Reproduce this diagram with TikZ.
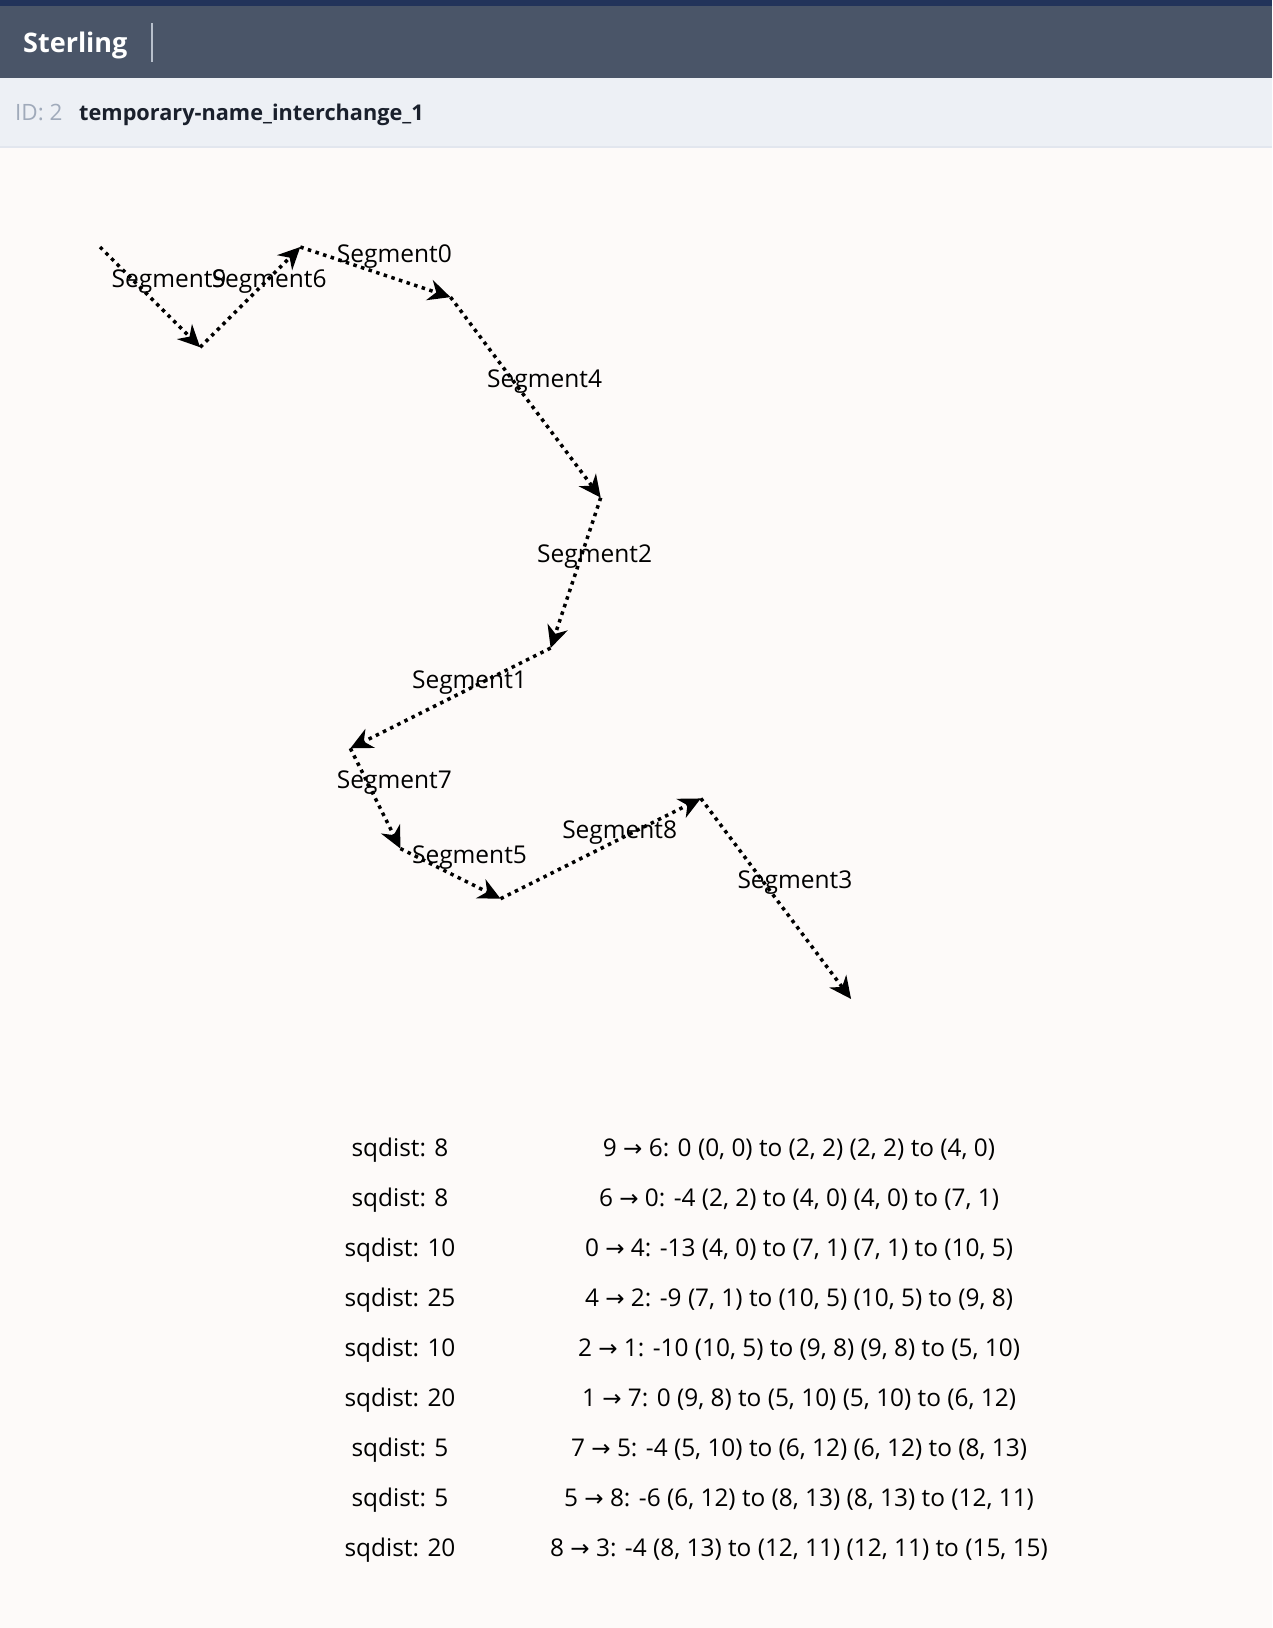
\documentclass[tikz,border=0pt]{standalone}
\usepackage{fontspec}
\setmainfont{Open Sans}
\newfontfamily\arrowfont{DejaVu Sans}
\usetikzlibrary{arrows.meta,calc}
\definecolor{bgc}{HTML}{FDFAF9}
\definecolor{headdark}{HTML}{4A5568}
\definecolor{headtop}{HTML}{22335A}
\definecolor{subbar}{HTML}{EDF0F5}
\definecolor{borderc}{HTML}{E2E6EE}
\definecolor{idgray}{HTML}{A0AABA}
\definecolor{titlec}{HTML}{1A202C}
\definecolor{sepc}{HTML}{B8C0CC}
\tikzset{
  segline/.style={line width=3.5pt, dash pattern=on 3.5pt off 4.5pt,
    -{Stealth[length=22pt,width=21pt,inset=7pt]}},
  seglabel/.style={font=\fontsize{24.5}{28}\selectfont, inner sep=0pt, xshift=19pt, yshift=16pt},
  tabtext/.style={font=\fontsize{24.4}{28}\selectfont, text=black, inner sep=0pt},
  pt/.style={inner sep=0pt, minimum size=0pt}
}
\newcommand{\ar}{{\arrowfont\fontsize{23}{26}\selectfont\raisebox{0.8pt}{→}}}
\begin{document}
\begin{tikzpicture}[x=1pt,y=-1pt]
\fill[bgc] (0,0) rectangle (1272,1628);
\useasboundingbox (0,0) rectangle (1272,1628);
% header
\fill[headdark] (0,0) rectangle (1272,78);
\fill[headtop] (0,0) rectangle (1272,6);
\fill[subbar] (0,78) rectangle (1272,146);
\fill[borderc] (0,146) rectangle (1272,148);
\node[anchor=base west, inner sep=0pt, text=white, font=\fontsize{27}{31}\selectfont\bfseries] (brand) at (23,52) {Sterling};
\coordinate (sepTop) at (152,23);
\coordinate (sepBot) at (152,62);
\draw[sepc, line width=1.5pt] (sepTop) -- (sepBot);
\node[anchor=base west, inner sep=0pt, text=idgray, font=\fontsize{22.5}{26}\selectfont] (idlbl) at (15,120) {ID: 2};
\node[anchor=base west, inner sep=0pt, text=titlec, font=\fontsize{21.7}{26}\selectfont\bfseries] (title) at (79,120) {temporary-name\_interchange\_1};
% plot
\begin{scope}[shift={(100,247)}, x=50.07pt, y=-50.13pt]
  \coordinate (a0) at (0,0);
  \coordinate (a1) at (2,2);
  \coordinate (a2) at (4,0);
  \coordinate (a3) at (7,1);
  \coordinate (a4) at (10,5);
  \coordinate (a5) at (9,8);
  \coordinate (a6) at (5,10);
  \coordinate (a7) at (6,12);
  \coordinate (a8) at (8,13);
  \coordinate (a9) at (12,11);
  \coordinate (a10) at (15,15);
\end{scope}
\draw[segline] (a0) -- (a1);
\draw[segline] (a1) -- (a2);
\draw[segline] (a2) -- (a3);
\draw[segline] (a3) -- (a4);
\draw[segline] (a4) -- (a5);
\draw[segline] (a5) -- (a6);
\draw[segline] (a6) -- (a7);
\draw[segline] (a7) -- (a8);
\draw[segline] (a8) -- (a9);
\draw[segline] (a9) -- (a10);
\node[seglabel] (s9) at ($(a0)!0.5!(a1)$) {Segment9};
\node[seglabel] (s6) at ($(a1)!0.5!(a2)$) {Segment6};
\node[seglabel] (s0) at ($(a2)!0.5!(a3)$) {Segment0};
\node[seglabel] (s4) at ($(a3)!0.5!(a4)$) {Segment4};
\node[seglabel] (s2) at ($(a4)!0.5!(a5)$) {Segment2};
\node[seglabel] (s1) at ($(a5)!0.5!(a6)$) {Segment1};
\node[seglabel] (s7) at ($(a6)!0.5!(a7)$) {Segment7};
\node[seglabel] (s5) at ($(a7)!0.5!(a8)$) {Segment5};
\node[seglabel] (s8) at ($(a8)!0.5!(a9)$) {Segment8};
\node[seglabel] (s3) at ($(a9)!0.5!(a10)$) {Segment3};
% table
\node[tabtext] (l1) at (400,1150) {sqdist: 8};
\node[tabtext] (l2) at (400,1200) {sqdist: 8};
\node[tabtext] (l3) at (400,1250) {sqdist: 10};
\node[tabtext] (l4) at (400,1300) {sqdist: 25};
\node[tabtext] (l5) at (400,1350) {sqdist: 10};
\node[tabtext] (l6) at (400,1400) {sqdist: 20};
\node[tabtext] (l7) at (400,1450) {sqdist: 5};
\node[tabtext] (l8) at (400,1500) {sqdist: 5};
\node[tabtext] (l9) at (400,1550) {sqdist: 20};
\node[tabtext] (r1) at (799,1150) {9 \ar{} 6: 0 (0, 0) to (2, 2) (2, 2) to (4, 0)};
\node[tabtext] (r2) at (799,1200) {6 \ar{} 0: -4 (2, 2) to (4, 0) (4, 0) to (7, 1)};
\node[tabtext] (r3) at (799,1250) {0 \ar{} 4: -13 (4, 0) to (7, 1) (7, 1) to (10, 5)};
\node[tabtext] (r4) at (799,1300) {4 \ar{} 2: -9 (7, 1) to (10, 5) (10, 5) to (9, 8)};
\node[tabtext] (r5) at (799,1350) {2 \ar{} 1: -10 (10, 5) to (9, 8) (9, 8) to (5, 10)};
\node[tabtext] (r6) at (799,1400) {1 \ar{} 7: 0 (9, 8) to (5, 10) (5, 10) to (6, 12)};
\node[tabtext] (r7) at (799,1450) {7 \ar{} 5: -4 (5, 10) to (6, 12) (6, 12) to (8, 13)};
\node[tabtext] (r8) at (799,1500) {5 \ar{} 8: -6 (6, 12) to (8, 13) (8, 13) to (12, 11)};
\node[tabtext] (r9) at (799,1550) {8 \ar{} 3: -4 (8, 13) to (12, 11) (12, 11) to (15, 15)};
\end{tikzpicture}
\end{document}
